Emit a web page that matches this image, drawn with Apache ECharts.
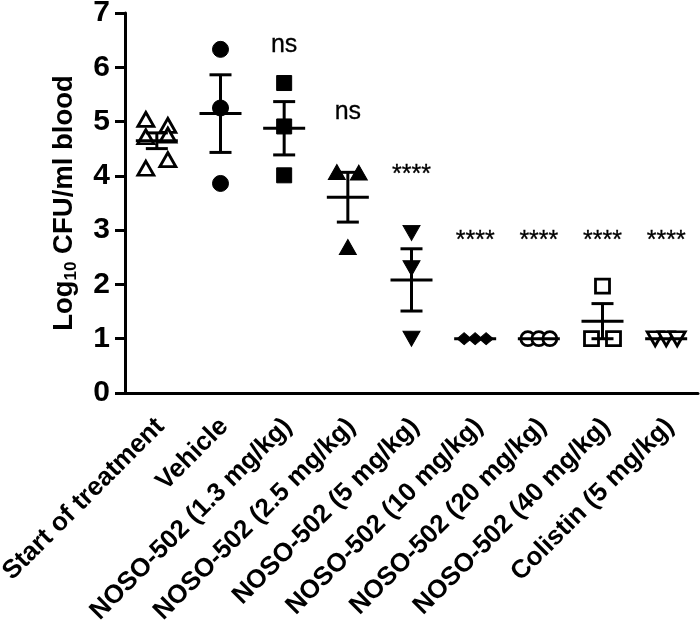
<!DOCTYPE html>
<html>
<head>
<meta charset="utf-8">
<script src="https://cdn.jsdelivr.net/npm/echarts@6/dist/echarts.min.js"></script>
<style>
html,body{margin:0;padding:0;background:#fff;}
#chart{width:700px;height:622px;}
</style>
</head>
<body>
<div id="chart"></div>
<script>
// ---- data ----
var categories = ['Start of treatment', 'Vehicle', 'NOSO-502 (1.3 mg/kg)', 'NOSO-502 (2.5 mg/kg)',
  'NOSO-502 (5 mg/kg)', 'NOSO-502 (10 mg/kg)', 'NOSO-502 (20 mg/kg)', 'NOSO-502 (40 mg/kg)', 'Colistin (5 mg/kg)'];
var startOfTreatment = [5.04, 4.93, 4.72, 4.75, 4.14, 4.30];
var vehicle = [6.33, 5.25, 3.86];
var noso1p3 = [5.71, 4.91, 4.01];
var noso2p5 = [4.07, 4.06, 2.69];
var noso5 = [2.95, 2.30, 1.00];
var noso10 = [1.00, 1.00, 1.00];
var noso20 = [1.00, 1.00, 1.00];
var noso40 = [1.00, 1.00, 1.97];
var colistin = [1.00, 1.00, 1.00];
var significance = ['', '', 'ns', 'ns', '****', '****', '****', '****', '****'];
var significanceLevel = [null, null, 6.40, 5.17, 4.02, 2.80, 2.80, 2.80, 2.80];
var yTicks = [0, 1, 2, 3, 4, 5, 6, 7];

var groups = [startOfTreatment, vehicle, noso1p3, noso2p5, noso5, noso10, noso20, noso40, colistin];

// ---- styles ----
var FONT = 'Arial, "Liberation Sans", Helvetica, sans-serif';
var markerStyles = [
  {symbol: 'triangle', rotate: 0, filled: false, size: [16, 14]},
  {symbol: 'circle', rotate: 0, filled: true, size: 16},
  {symbol: 'rect', rotate: 0, filled: true, size: 15},
  {symbol: 'triangle', rotate: 0, filled: true, size: [17, 15]},
  {symbol: 'triangle', rotate: 180, filled: true, size: [17, 15]},
  {symbol: 'diamond', rotate: 0, filled: true, size: [14, 12]},
  {symbol: 'circle', rotate: 0, filled: false, size: 14},
  {symbol: 'rect', rotate: 0, filled: false, size: 14},
  {symbol: 'triangle', rotate: 180, filled: false, size: [16, 14]}
];
var GRID = {left: 125, right: 2, top: 13, bottom: 229, containLabel: false, outerBoundsMode: 'none'};
var catPx = (700 - GRID.left - GRID.right) / categories.length;
var rowThreshold = 0.25;   // values closer than this share a row
var rowSpreadPx = 22;      // horizontal spread of a row of points

// scatter placement (GraphPad-like rows)
function placeGroup(vals, gi) {
  var idx = vals.map(function (v, i) { return i; });
  idx.sort(function (a, b) { return vals[b] - vals[a]; });
  var rows = [], cur = null;
  idx.forEach(function (i) {
    if (cur && Math.abs(vals[cur[0]] - vals[i]) < rowThreshold) cur.push(i);
    else { cur = [i]; rows.push(cur); }
  });
  var out = [];
  rows.forEach(function (r) {
    r.sort(function (a, b) { return a - b; });
    var n = r.length;
    r.forEach(function (i, k) {
      var off = n > 1 ? (k - (n - 1) / 2) * rowSpreadPx / (n - 1) : 0;
      out.push([gi + off / catPx, vals[i]]);
    });
  });
  return out;
}
function mean(a) { return a.reduce(function (s, v) { return s + v; }, 0) / a.length; }
function sem(a) {
  var m = mean(a);
  var ss = a.reduce(function (s, v) { return s + (v - m) * (v - m); }, 0);
  return Math.sqrt(ss / (a.length - 1)) / Math.sqrt(a.length);
}

var series = [];
groups.forEach(function (vals, gi) {
  var st = markerStyles[gi];
  series.push({
    type: 'scatter', xAxisIndex: 1, yAxisIndex: 0,
    symbol: st.symbol, symbolRotate: st.rotate, symbolSize: st.size,
    itemStyle: st.filled ? {color: '#000', borderColor: '#000', borderWidth: 1, opacity: 1}
                         : {color: '#fff', borderColor: '#000', borderWidth: 2.8, opacity: 1},
    data: placeGroup(vals, gi), z: 2, silent: true
  });
});

var statsData = groups.map(function (vals, gi) { return [gi, mean(vals), sem(vals)]; });
series.push({
  type: 'custom', xAxisIndex: 1, yAxisIndex: 0, z: 5, silent: true,
  data: statsData,
  renderItem: function (params, api) {
    var c = api.coord([api.value(0), api.value(1)]);
    var s = api.value(2);
    var top = api.coord([api.value(0), api.value(1) + s]);
    var bot = api.coord([api.value(0), api.value(1) - s]);
    var style = {stroke: '#000', lineWidth: 3, fill: null};
    var children = [
      {type: 'line', shape: {x1: c[0] - 21, y1: c[1], x2: c[0] + 21, y2: c[1]}, style: style}
    ];
    if (s > 0.0001) {
      children.push({type: 'line', shape: {x1: c[0], y1: top[1], x2: c[0], y2: bot[1]}, style: style});
      children.push({type: 'line', shape: {x1: c[0] - 11, y1: top[1], x2: c[0] + 11, y2: top[1]}, style: style});
      children.push({type: 'line', shape: {x1: c[0] - 11, y1: bot[1], x2: c[0] + 11, y2: bot[1]}, style: style});
    }
    return {type: 'group', children: children};
  }
});

var sigData = [];
significance.forEach(function (t, gi) {
  if (t) sigData.push({value: [gi, significanceLevel[gi]], name: t});
});
series.push({
  type: 'scatter', xAxisIndex: 1, yAxisIndex: 0, symbolSize: 0, silent: true, z: 6,
  itemStyle: {opacity: 1},
  data: sigData,
  label: {
    show: true, position: 'inside', color: '#000', fontFamily: FONT, opacity: 1,
    fontSize: 25, fontWeight: 'normal', textBorderWidth: 0.3, textBorderColor: '#000',
    formatter: function (p) { return p.name; }
  }
});

var chart = echarts.init(document.getElementById('chart'), null, {renderer: 'canvas'});
chart.setOption({
  backgroundColor: '#fff',
  animation: false,
  grid: GRID,
  xAxis: [{
    type: 'category', data: categories, boundaryGap: true,
    axisLine: {onZero: false, lineStyle: {color: '#000', width: 3}},
    axisTick: {alignWithLabel: true, length: 10, lineStyle: {color: '#000', width: 3}},
    axisLabel: {
      interval: 0, rotate: 45, margin: 33, color: '#000', fontFamily: FONT,
      fontSize: 26, fontWeight: 'bold', padding: [0, -5, 0, 0]
    },
    splitLine: {show: false}
  }, {
    type: 'value', min: -0.5, max: categories.length - 0.5, show: false
  }],
  yAxis: {
    type: 'value', min: yTicks[0], max: yTicks[yTicks.length - 1], interval: 1,
    name: '{a|Log}{b|10}{a| CFU/ml blood}',
    nameLocation: 'middle', nameRotate: 90, nameGap: 45,
    nameTextStyle: {
      rich: {
        a: {fontSize: 27.5, fontWeight: 'bold', fontFamily: FONT, color: '#000'},
        b: {fontSize: 17, fontWeight: 'bold', fontFamily: FONT, color: '#000', verticalAlign: 'bottom', lineHeight: 31}
      }
    },
    axisLine: {show: true, onZero: false, lineStyle: {color: '#000', width: 3}},
    axisTick: {show: true, length: 10, lineStyle: {color: '#000', width: 3}},
    axisLabel: {margin: 15, color: '#000', fontFamily: FONT, fontSize: 30, fontWeight: 'bold'},
    splitLine: {show: false}
  },
  series: series
});
</script>
</body>
</html>
